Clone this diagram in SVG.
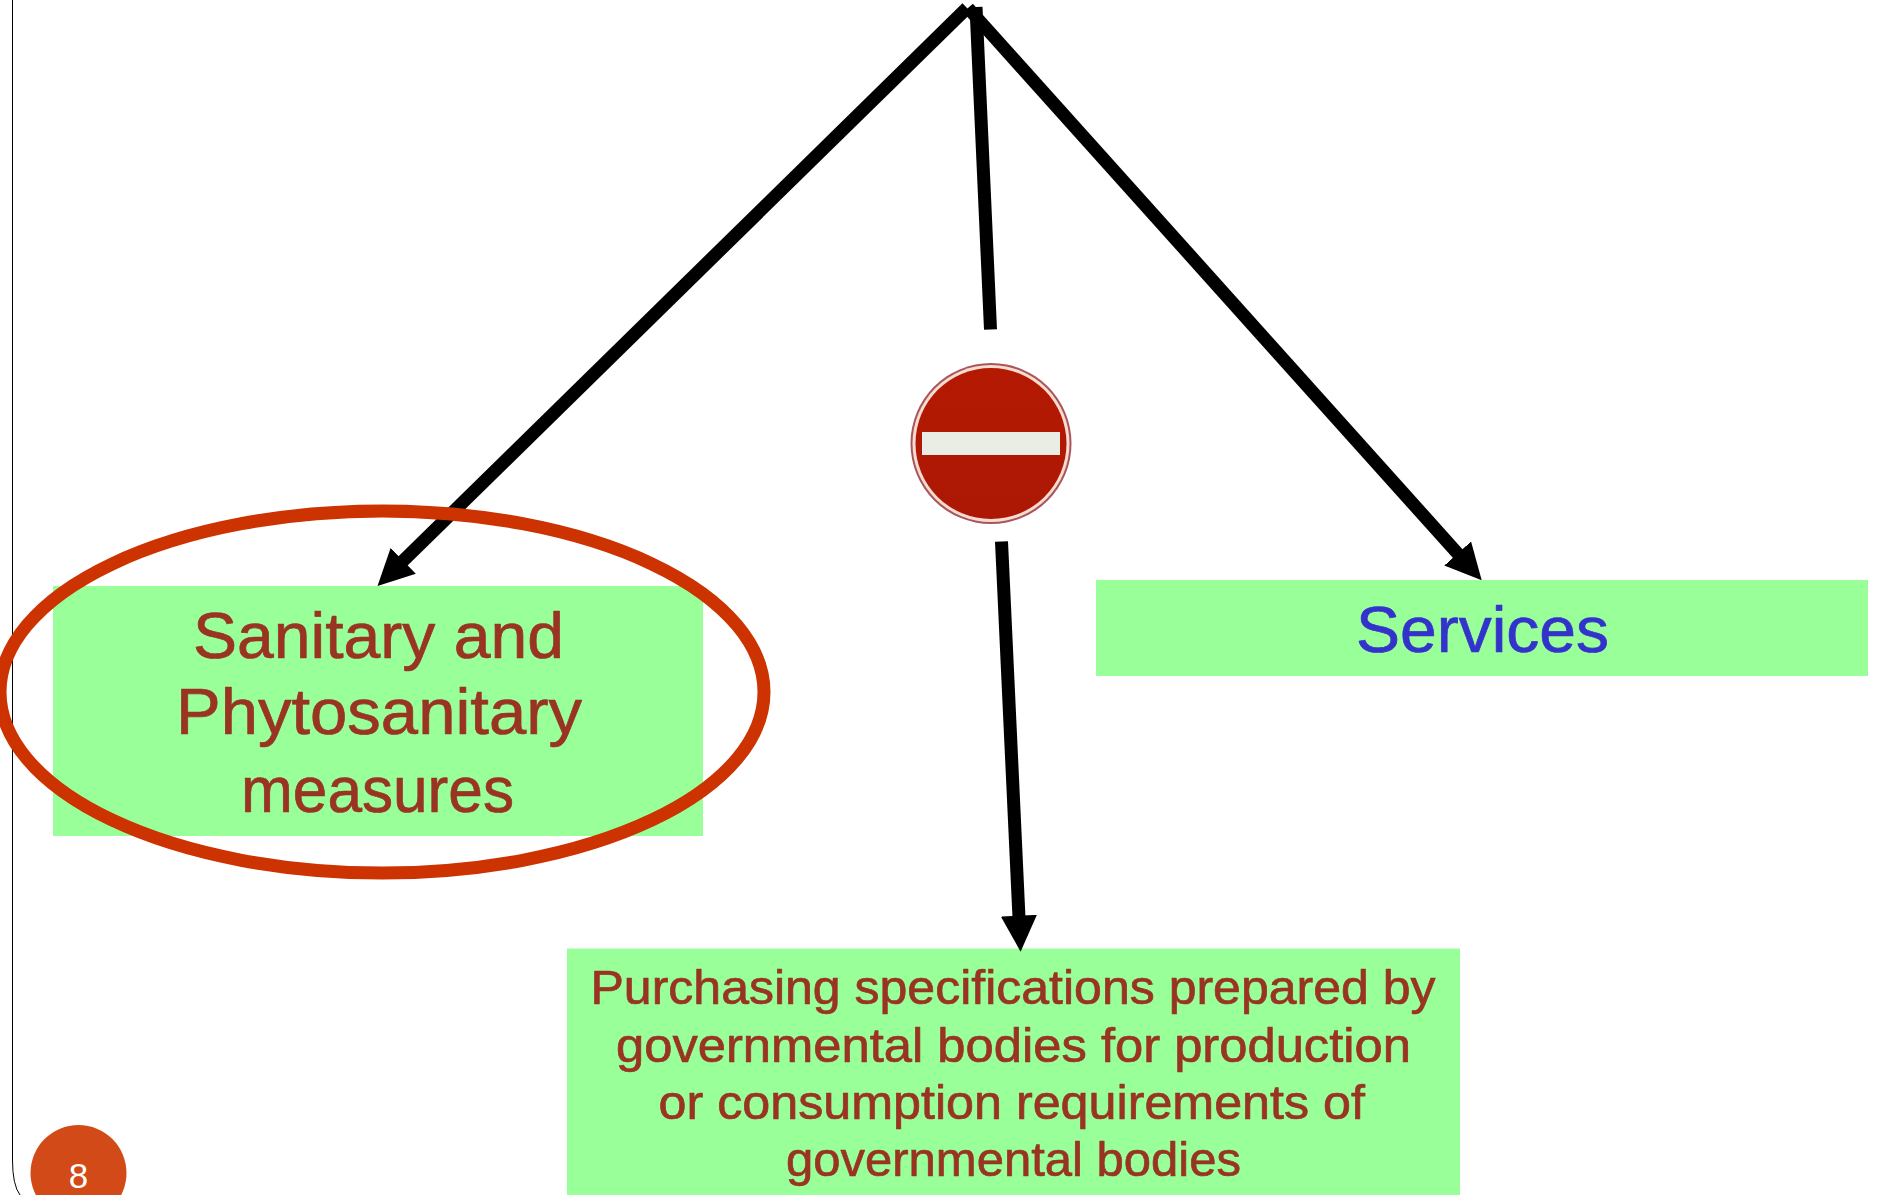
<svg xmlns="http://www.w3.org/2000/svg" width="1878" height="1195" viewBox="0 0 1878 1195">
  <style>
    .box { fill: #99ff99; }
    .label { font-family: "Liberation Sans", "Noto Sans", sans-serif; fill: #993322; stroke: #993322; stroke-width: 0.7; stroke-linejoin: round; }
    .big { font-size: 64px; }
    .small { font-size: 48.5px; }
    .blue { fill: #3333cc; stroke: #3333cc; }
    .arrow { stroke: #000; stroke-width: 13; fill: none; marker-end: url(#head); }
    .plain { stroke: #000; stroke-width: 13; fill: none; }
  </style>
  <defs>
    <marker id="head" markerUnits="userSpaceOnUse" markerWidth="36" markerHeight="36" refX="2" refY="18" orient="auto">
      <path d="M0,0 L36,18 L0,36 Z" fill="#000"/>
    </marker>
    <linearGradient id="signRed" x1="0" y1="0" x2="0" y2="1">
      <stop offset="0" stop-color="#b41902"/>
      <stop offset="1" stop-color="#ac1805"/>
    </linearGradient>
  </defs>
  <rect width="1878" height="1195" fill="#fff"/>
  <path id="frame" d="M12.5,0 V1160 Q12.5,1185 20,1195" fill="none" stroke="#000" stroke-width="1"/>
  <g id="node-spec">
    <rect class="box" x="567" y="948.5" width="893" height="246.5"/>
    <text class="label small" x="590.5" y="1004" textLength="845" lengthAdjust="spacingAndGlyphs">Purchasing specifications prepared by</text>
    <text class="label small" x="616" y="1062" textLength="795" lengthAdjust="spacingAndGlyphs">governmental bodies for production</text>
    <text class="label small" x="658.5" y="1119" textLength="706.5" lengthAdjust="spacingAndGlyphs">or consumption requirements of</text>
    <text class="label small" x="786" y="1176" textLength="455" lengthAdjust="spacingAndGlyphs">governmental bodies</text>
  </g>
  <g id="node-services">
    <rect class="box" x="1096" y="580" width="772" height="96"/>
    <text class="label big blue" x="1356" y="652" textLength="253" lengthAdjust="spacingAndGlyphs">Services</text>
  </g>
  <g id="node-sps">
    <rect class="box" x="53" y="586" width="650" height="250"/>
    <text class="label big" x="193" y="658" textLength="371" lengthAdjust="spacingAndGlyphs">Sanitary and</text>
    <text class="label big" x="176" y="734" textLength="406" lengthAdjust="spacingAndGlyphs">Phytosanitary</text>
    <text class="label big" x="241" y="812" textLength="273" lengthAdjust="spacingAndGlyphs">measures</text>
  </g>
  <g id="connectors">
    <line class="arrow" x1="967" y1="8" x2="401.8" y2="562.2"/>
    <line class="arrow" x1="968" y1="8" x2="1459" y2="555"/>
    <line class="plain" x1="976" y1="7" x2="990.5" y2="329.5"/>
    <line class="arrow" x1="1001.5" y1="541.5" x2="1019" y2="917.7"/>
  </g>
  <ellipse id="highlight" cx="382" cy="692" rx="382" ry="181" fill="none" stroke="#cc3300" stroke-width="13"/>
  <g id="node-sign">
    <circle cx="991" cy="443.5" r="80.5" fill="#a8565a"/>
    <circle cx="991" cy="443.5" r="78.5" fill="#f8dcd2"/>
    <circle cx="991" cy="443.5" r="75.5" fill="url(#signRed)"/>
    <rect x="922" y="432" width="138" height="23" fill="#e9ede3"/>
  </g>
  <g id="node-page">
    <circle cx="78.5" cy="1173" r="48" fill="#d24a17"/>
    <text x="78.5" y="1187.5" text-anchor="middle" font-family="'Liberation Sans', sans-serif" font-size="35" fill="#fff">8</text>
  </g>
</svg>
